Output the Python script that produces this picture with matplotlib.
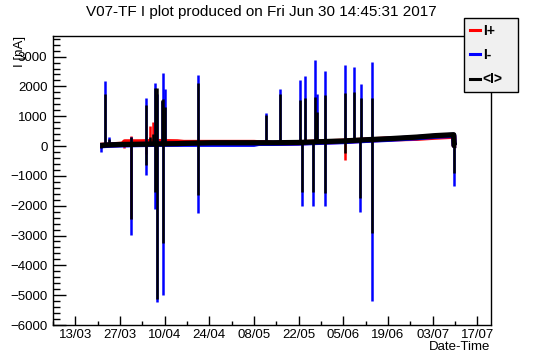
import matplotlib
matplotlib.use('Agg')
import matplotlib.pyplot as plt
import matplotlib.dates as mdates
from matplotlib.lines import Line2D
from matplotlib.ticker import MultipleLocator
import numpy as np
from datetime import datetime, timedelta

plt.rcParams['font.family'] = ['Liberation Sans', 'DejaVu Sans']

t0 = datetime(2017, 3, 13)

# slow baseline, days after 13/03
base_days = [7.8, 11.0, 14.8, 15.5, 20.0, 26.0, 32.0, 34.0, 43.0, 56.0, 57.5, 60.5, 62.0,
             70.0, 78.0, 84.0, 91.0, 99.0, 107.0, 113.0, 118.6, 118.75, 119.4]
base_ip = [20, 40, 60, 140, 140, 150, 140, 120, 120, 120, 110, 110, 90,
           110, 140, 160, 200, 240, 260, 300, 330, 20, 20]
base_im = [10, 30, 40, 40, 50, 60, 60, 60, 60, 60, 90, 90, 90,
           100, 130, 150, 190, 230, 280, 330, 360, 20, 20]
base_avg = [20, 40, 55, 55, 60, 70, 80, 90, 110, 110, 110, 110, 110,
            120, 150, 170, 210, 250, 300, 350, 380, 20, 20]

# spikes: day, top and bottom of each series (nan = no spike)
nan = np.nan
spike_days = [7.9, 9.45, 10.55, 15.25, 17.4, 22.1, 23.3, 24.5, 25.0, 25.45, 27.05, 27.6,
              28.1, 38.6, 59.9, 64.3, 70.4, 71.2, 71.9, 74.4, 75.2, 75.7, 78.4, 84.4,
              87.2, 89.3, 89.6, 93.0, 118.7]
ip_hi = [nan, nan, nan, 60, 330, 140, 670, 800, nan, nan, nan, nan,
         nan, nan, nan, nan, nan, nan, nan, nan, nan, nan, nan, 160,
         nan, nan, nan, nan, nan]
ip_lo = [nan, nan, nan, -60, -2450, -250, 140, 140, nan, nan, nan, nan,
         nan, nan, nan, nan, nan, nan, nan, nan, nan, nan, nan, -470,
         nan, nan, nan, nan, nan]
im_hi = [10, 2180, 300, nan, 290, 1600, nan, nan, 2130, 1750, 1500, 2450,
         1910, 2380, 1100, 1910, 2210, 100, 2350, 100, 2890, 1750, 2520, 2720,
         2650, 170, 2080, 2820, 380]
im_lo = [-190, 30, 30, nan, -2980, -980, nan, nan, -2110, -5230, 60, -5000,
         60, -2240, 90, 100, 100, -2000, 100, -2000, 110, 110, -2000, 150,
         150, -2200, 170, -5190, -1330]
avg_hi = [20, 1745, 230, nan, 290, 1370, 310, 420, 1960, 1960, 1540, 1570,
          1320, 2120, 1040, 1745, 1540, 110, 1620, 120, 1640, 1150, 1700, 1780,
          1820, 180, 1620, 1620, 380]
avg_lo = [-50, 30, 30, nan, -2450, -640, 60, 60, -1530, -5140, 60, -3250,
          60, -1640, 100, 100, 100, -1530, 110, -1530, 120, 120, -1580, -240,
          170, -1750, 180, -2910, -910]

tick_days = list(range(0, 127, 14))


def to_dates(days):
    return mdates.date2num([t0 + timedelta(days=d) for d in days])


fig = plt.figure(figsize=(5.46, 3.62), dpi=100)
ax = fig.add_axes([53 / 546, 1 - 325 / 362, 438 / 546, 289 / 362])

bx = to_dates(base_days)
sx = to_dates(spike_days)
series = [(base_ip, ip_hi, ip_lo, '#ff0000'),
          (base_im, im_hi, im_lo, '#0000ff'),
          (base_avg, avg_hi, avg_lo, 'black')]
for base, hi, lo, col in series:
    ax.plot(bx, base, color=col, lw=3.8, solid_capstyle='butt')
    ax.vlines(sx, lo, hi, colors=col, lw=1.8)

ax.set_xlim(to_dates([-3.6])[0], to_dates([130.3])[0])
ax.set_ylim(-6000, 3690)

ax.set_xticks(to_dates(tick_days))
ax.set_xticks(to_dates(range(-7, 131, 7)), minor=True)
ax.xaxis.set_major_formatter(mdates.DateFormatter('%d/%m'))
ax.yaxis.set_major_locator(MultipleLocator(1000))
ax.yaxis.set_minor_locator(MultipleLocator(200))
ax.tick_params(axis='both', which='both', direction='in', labelsize=9.5, width=1)
ax.tick_params(axis='y', which='major', length=9.4, pad=4)
ax.tick_params(axis='y', which='minor', length=4.7)
ax.tick_params(axis='x', which='major', length=6.2, pad=3)
ax.tick_params(axis='x', which='minor', length=3.1)
for s in ax.spines.values():
    s.set_linewidth(1)

fig.text(261 / 546, 1 - 12 / 362, 'V07-TF I plot produced on Fri Jun 30 14:45:31 2017',
         ha='center', va='center', fontsize=11)
fig.text(20 / 546, 1 - 36 / 362, 'I [nA]', rotation=90, ha='center', va='top', fontsize=9.5)
fig.text(490 / 546, 1 - 347 / 362, 'Date-Time', ha='right', va='center', fontsize=9.5)

handles = [Line2D([], [], color=c, lw=2.2) for c in ['#ff0000', '#0000ff', 'black']]
leg = fig.legend(handles, ['I+', 'I-', '<I>'], loc='upper left',
                 bbox_to_anchor=(464 / 546, 1 - 18 / 362, 54 / 546, 0),
                 bbox_transform=fig.transFigure, mode='expand', borderaxespad=0,
                 handlelength=0.75, handletextpad=0.2, labelspacing=0.75, borderpad=0.4,
                 fancybox=False, framealpha=1, facecolor='#f0f0f0', edgecolor='black',
                 prop={'weight': 'bold', 'size': 10})
leg.get_frame().set_linewidth(1)

fig.savefig('out.png', dpi=100)
